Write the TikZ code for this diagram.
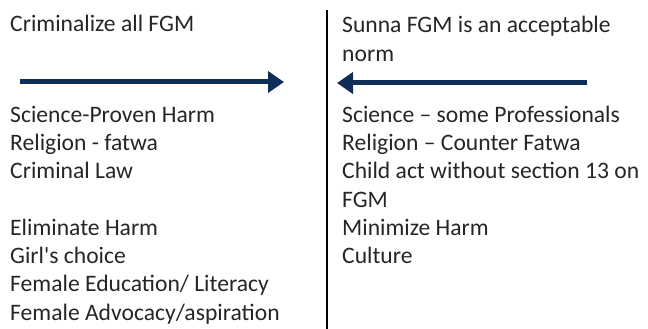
\documentclass[tikz,border=0pt]{standalone}
\usepackage{fontspec}
\setmainfont{Carlito}
\usetikzlibrary{arrows.meta}
\definecolor{navy}{RGB}{14,46,88}
\newcommand{\txtlines}[1]{\begin{tabular}[t]{@{}l@{}}#1\end{tabular}}
\tikzset{
  txt/.style={anchor=base west, inner sep=0pt, font=\fontsize{23.6}{28.4}\selectfont, text=black!85},
  bigarrow/.style={draw=navy, line width=5pt, -{Triangle[length=16pt,width=21pt]}}
}
\begin{document}
\begin{tikzpicture}[x=1pt,y=-1pt]
\useasboundingbox (0,0) rectangle (648,329);
% divider
\coordinate (dtop) at (327,10);
\coordinate (dbot) at (327,329);
\draw[line width=1.6pt] (dtop) -- (dbot);
% left
\node[txt] (lh) at (10,32) {Criminalize all FGM};
\coordinate (la) at (20,82);
\coordinate (lb) at (284,82);
\draw[bigarrow] (la) -- (lb);
\node[txt] (l1) at (10,122) {\txtlines{Science-Proven Harm\\Religion - fatwa\\Criminal Law}};
\node[txt] (l2) at (10,235) {\txtlines{Eliminate Harm\\Girl\textquotesingle s choice\\Female Education/ Literacy\\Female Advocacy/aspiration}};
% right
\node[txt] (rh) at (342,33) {\txtlines{Sunna FGM is an acceptable\\norm}};
\coordinate (ra) at (587,83);
\coordinate (rb) at (337,83);
\draw[bigarrow] (ra) -- (rb);
\node[txt] (r1) at (342,122) {\txtlines{Science – some Professionals\\Religion – Counter Fatwa\\Child act without section 13 on\\FGM\\Minimize Harm\\Culture}};
\end{tikzpicture}
\end{document}
